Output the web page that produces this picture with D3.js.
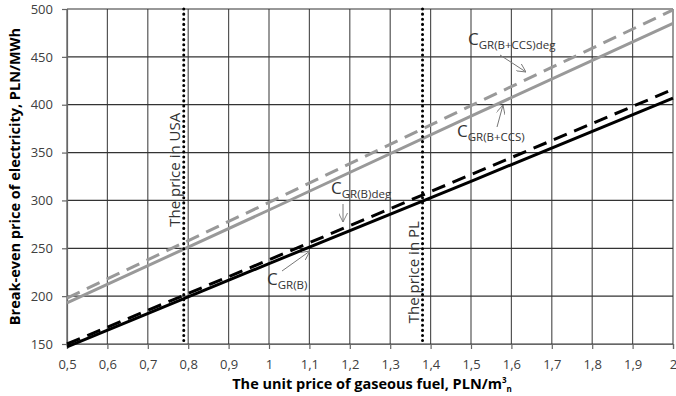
<!DOCTYPE html>
<html>
<head>
<meta charset="utf-8">
<script src="https://cdn.jsdelivr.net/npm/d3@7"></script>
<style>
  body { margin: 0; background: #fff; }
  svg { font-family: "Open Sans", "Noto Sans", sans-serif; }
</style>
</head>
<body>
<div id="chart"></div>
<script>
// unit price of gaseous fuel, PLN/m3n
const fuelPrice = [0.5, 1.0, 1.5, 2.0];
// break-even price of electricity, PLN/MWh
const cGrB = [147, 234, 320, 407];
const cGrBdeg = [150, 238, 327, 416];
const cGrBccs = [193, 290, 388, 485];
const cGrBccsDeg = [198, 298, 399, 499];

const xTicks = [0.5, 0.6, 0.7, 0.8, 0.9, 1.0, 1.1, 1.2, 1.3, 1.4, 1.5, 1.6, 1.7, 1.8, 1.9, 2.0];
const yTicks = [150, 200, 250, 300, 350, 400, 450, 500];

const priceUSA = 0.789;
const pricePL = 1.38;

const width = 676, height = 396;
const margin = {top: 9, right: 3, bottom: 52, left: 67};
const w = width - margin.left - margin.right;
const h = height - margin.top - margin.bottom;

const svg = d3.select("#chart").append("svg")
    .attr("width", width)
    .attr("height", height);

const g = svg.append("g")
    .attr("transform", `translate(${margin.left},${margin.top})`);

const x = d3.scaleLinear().domain([0.5, 2]).range([0, w]);
const y = d3.scaleLinear().domain([150, 500]).range([h, 0]);

const fmt = d => String(+d.toFixed(1)).replace(".", ",");

// grid
g.append("g").selectAll("line.vg")
    .data(xTicks)
    .join("line")
    .attr("x1", d => x(d)).attr("x2", d => x(d))
    .attr("y1", 0).attr("y2", h)
    .style("stroke", "#555").style("stroke-width", 1.2);

g.append("g").selectAll("line.hg")
    .data(yTicks)
    .join("line")
    .attr("x1", 0).attr("x2", w)
    .attr("y1", d => y(d)).attr("y2", d => y(d))
    .style("stroke", "#333").style("stroke-width", 1.2);

// axes
const xAxis = g.append("g")
    .attr("transform", `translate(0,${h})`)
    .call(d3.axisBottom(x).tickValues(xTicks).tickFormat(fmt).tickSize(5).tickPadding(11));
const yAxis = g.append("g")
    .call(d3.axisLeft(y).tickValues(yTicks).tickSize(5).tickPadding(9));

[xAxis, yAxis].forEach(a => {
    a.select(".domain").style("stroke", "#666").style("stroke-width", 1.2);
    a.selectAll(".tick line").style("stroke", "#666").style("stroke-width", 1.2);
    a.selectAll("text")
        .style("font-size", "13px")
        .style("fill", "#404040")
        .style("font-family", "'Open Sans', sans-serif");
});

// series
const line = d3.line()
    .x((d, i) => x(fuelPrice[i]))
    .y(d => y(d));

const series = [
    {values: cGrBccsDeg, color: "#999", dash: "14,8"},
    {values: cGrBccs, color: "#999", dash: null},
    {values: cGrBdeg, color: "#000", dash: "14,8"},
    {values: cGrB, color: "#000", dash: null}
];

g.selectAll("path.series")
    .data(series)
    .join("path")
    .attr("class", "series")
    .attr("d", d => line(d.values))
    .style("fill", "none")
    .style("stroke", d => d.color)
    .style("stroke-width", 3)
    .style("stroke-dasharray", d => d.dash);

// price markers
const markers = [
    {value: priceUSA, label: "The price in USA", mid: 332},
    {value: pricePL, label: "The price in PL", mid: 225}
];

g.selectAll("line.marker")
    .data(markers)
    .join("line")
    .attr("x1", d => x(d.value)).attr("x2", d => x(d.value))
    .attr("y1", 0).attr("y2", h)
    .style("stroke", "#000")
    .style("stroke-width", 3)
    .style("stroke-linecap", "round")
    .style("stroke-dasharray", "0.1,5");

g.selectAll("text.marker")
    .data(markers)
    .join("text")
    .attr("transform", d => `translate(${x(d.value) - 4},${y(d.mid)}) rotate(-90)`)
    .attr("text-anchor", "middle")
    .style("font-size", "15px")
    .style("fill", "#333")
    .text(d => d.label);

// annotations
svg.append("defs").append("marker")
    .attr("id", "arr")
    .attr("viewBox", "0 0 10 10")
    .attr("refX", 10).attr("refY", 5)
    .attr("markerWidth", 9).attr("markerHeight", 9)
    .attr("markerUnits", "userSpaceOnUse")
    .attr("orient", "auto")
    .append("path")
    .attr("d", "M0,0 L10,5 L0,10")
    .style("fill", "none")
    .style("stroke", "#777")
    .style("stroke-width", 1);

const notes = [
    {sub: "GR(B+CCS)deg", tx: 468, ty: 45, ax1: 500, ay1: 55, ax2: 526, ay2: 72},
    {sub: "GR(B+CCS)", tx: 457, ty: 137, ax1: 497, ay1: 127, ax2: 503, ay2: 105},
    {sub: "GR(B)deg", tx: 331, ty: 194, ax1: 343, ay1: 204, ax2: 343, ay2: 222},
    {sub: "GR(B)", tx: 267, ty: 285, ax1: 282, ay1: 271, ax2: 310, ay2: 251}
];

notes.forEach(n => {
    const t = svg.append("text")
        .attr("x", n.tx).attr("y", n.ty)
        .style("fill", "#333");
    t.append("tspan").style("font-size", "17px").text("C");
    t.append("tspan").attr("dy", 4).style("font-size", "11.5px").text(n.sub);
    svg.append("line")
        .attr("x1", n.ax1).attr("y1", n.ay1)
        .attr("x2", n.ax2).attr("y2", n.ay2)
        .style("stroke", "#777").style("stroke-width", 1)
        .attr("marker-end", "url(#arr)");
});

// axis titles
svg.append("text")
    .attr("transform", `translate(20,${margin.top + h / 2}) rotate(-90)`)
    .attr("text-anchor", "middle")
    .style("font-size", "14.5px")
    .style("font-weight", "bold")
    .style("fill", "#000")
    .text("Break-even price of electricity, PLN/MWh");

const xt = svg.append("text")
    .attr("x", 372).attr("y", 389)
    .attr("text-anchor", "middle")
    .style("font-size", "14.5px")
    .style("font-weight", "bold")
    .style("fill", "#000");
xt.append("tspan").text("The unit price of gaseous fuel, PLN/m");
xt.append("tspan").attr("dy", -6).style("font-size", "8px").text("3");
xt.append("tspan").attr("dy", 9).style("font-size", "8px").text("n");
</script>
</body>
</html>
